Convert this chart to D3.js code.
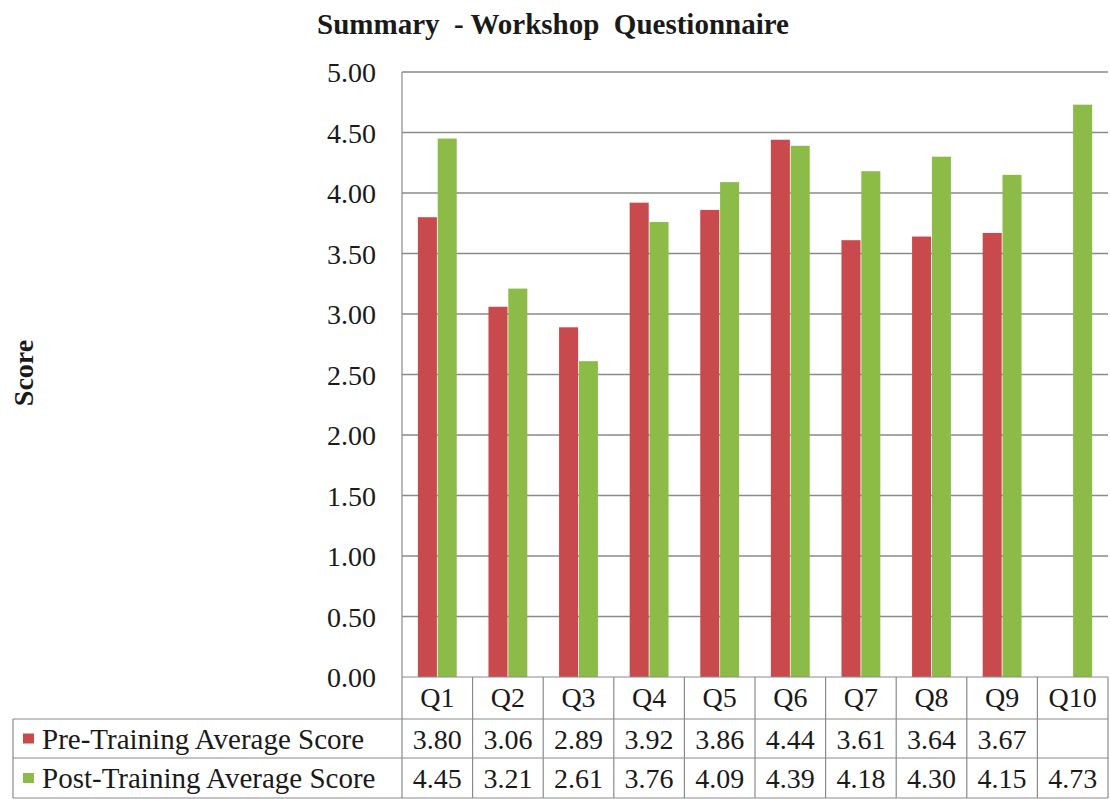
<!DOCTYPE html>
<html>
<head>
<meta charset="utf-8">
<script src="https://cdn.jsdelivr.net/npm/d3@7"></script>
<style>
  body { margin: 0; background: #fff; }
  text { font-family: "Liberation Serif", "Times New Roman", serif; fill: #1a1a1a; }
</style>
</head>
<body>
<div id="chart"></div>
<script>
var questions = ['Q1', 'Q2', 'Q3', 'Q4', 'Q5', 'Q6', 'Q7', 'Q8', 'Q9', 'Q10'];
var preScores = [3.80, 3.06, 2.89, 3.92, 3.86, 4.44, 3.61, 3.64, 3.67, null];
var postScores = [4.45, 3.21, 2.61, 3.76, 4.09, 4.39, 4.18, 4.30, 4.15, 4.73];
var seriesNames = ['Pre-Training Average Score', 'Post-Training Average Score'];
var yTicks = [0, 0.5, 1, 1.5, 2, 2.5, 3, 3.5, 4, 4.5, 5];

var chart_width = 1110;
var chart_height = 799;
var plot_left = 402, plot_right = 1108, plot_top = 72, plot_bottom = 677;
var table_left = 13;
var row_bottoms = [719, 758, 798];
var colors = ['#C94A4D', '#8DBB48'];
var line_color = '#8a8a8a';
var font_size = 28;

var svg = d3.select('#chart')
  .append('svg')
  .attr('width', chart_width)
  .attr('height', chart_height);

// Scales
var xScale = d3.scaleBand()
  .domain(questions)
  .range([plot_left, plot_right]);

var xInner = d3.scaleBand()
  .domain([0, 1])
  .range([0, xScale.bandwidth()])
  .paddingOuter(0.8)
  .paddingInner(0.04);

var yScale = d3.scaleLinear()
  .domain([0, 5])
  .range([plot_bottom, plot_top]);

// Title
svg.append('text')
  .attr('x', 553)
  .attr('y', 34)
  .attr('text-anchor', 'middle')
  .attr('font-size', 29)
  .attr('font-weight', 'bold')
  .style('white-space', 'pre')
  .text('Summary  - Workshop  Questionnaire');

// Y axis label
svg.append('text')
  .attr('transform', 'translate(33,373) rotate(-90)')
  .attr('text-anchor', 'middle')
  .attr('font-size', 28)
  .attr('font-weight', 'bold')
  .text('Score');

// Gridlines
svg.selectAll('line.grid')
  .data(yTicks.slice(1))
  .enter()
  .append('line')
  .attr('class', 'grid')
  .attr('x1', plot_left)
  .attr('x2', plot_right)
  .attr('y1', function (d) { return yScale(d); })
  .attr('y2', function (d) { return yScale(d); })
  .attr('stroke', line_color)
  .attr('stroke-width', 1.5);

// Y tick labels
svg.selectAll('text.ytick')
  .data(yTicks)
  .enter()
  .append('text')
  .attr('class', 'ytick')
  .attr('x', 376)
  .attr('y', function (d) { return yScale(d) + 10; })
  .attr('text-anchor', 'end')
  .attr('font-size', font_size)
  .text(function (d) { return d3.format('.2f')(d); });

// Bars
[preScores, postScores].forEach(function (series, s) {
  svg.selectAll('rect.s' + s)
    .data(series.map(function (v, i) { return { q: questions[i], v: v }; })
      .filter(function (d) { return d.v !== null; }))
    .enter()
    .append('rect')
    .attr('class', 's' + s)
    .attr('x', function (d) { return xScale(d.q) + xInner(s); })
    .attr('y', function (d) { return yScale(d.v); })
    .attr('width', xInner.bandwidth())
    .attr('height', function (d) { return plot_bottom - yScale(d.v); })
    .attr('fill', colors[s]);
});

// Table lines
var tbl = svg.append('g').attr('stroke', line_color).attr('stroke-width', 1.2);
tbl.append('line')
  .attr('x1', plot_left).attr('x2', plot_left)
  .attr('y1', plot_top).attr('y2', row_bottoms[2]);
tbl.selectAll('line.col')
  .data(questions)
  .enter()
  .append('line')
  .attr('x1', function (d) { return xScale(d) + xScale.bandwidth(); })
  .attr('x2', function (d) { return xScale(d) + xScale.bandwidth(); })
  .attr('y1', plot_bottom)
  .attr('y2', row_bottoms[2]);
tbl.append('line')
  .attr('x1', plot_left).attr('x2', plot_right)
  .attr('y1', plot_bottom).attr('y2', plot_bottom);
tbl.selectAll('line.row')
  .data(row_bottoms)
  .enter()
  .append('line')
  .attr('x1', table_left).attr('x2', plot_right)
  .attr('y1', function (d) { return d; })
  .attr('y2', function (d) { return d; });
tbl.append('line')
  .attr('x1', table_left).attr('x2', table_left)
  .attr('y1', row_bottoms[0]).attr('y2', row_bottoms[2]);

// Header row
svg.selectAll('text.qlabel')
  .data(questions)
  .enter()
  .append('text')
  .attr('class', 'qlabel')
  .attr('x', function (d) { return xScale(d) + xScale.bandwidth() / 2; })
  .attr('y', 707)
  .attr('text-anchor', 'middle')
  .attr('font-size', font_size)
  .text(function (d) { return d; });

// Value rows
[preScores, postScores].forEach(function (series, s) {
  var rowMid = (row_bottoms[s] + row_bottoms[s + 1]) / 2;
  svg.append('rect')
    .attr('x', 23)
    .attr('y', rowMid - 5)
    .attr('width', 11)
    .attr('height', 10)
    .attr('fill', colors[s]);
  svg.append('text')
    .attr('x', 42)
    .attr('y', rowMid + 10)
    .attr('font-size', 29)
    .text(seriesNames[s]);
  svg.selectAll('text.val' + s)
    .data(series)
    .enter()
    .append('text')
    .attr('class', 'val' + s)
    .attr('x', function (d, i) { return xScale(questions[i]) + xScale.bandwidth() / 2; })
    .attr('y', rowMid + 10)
    .attr('text-anchor', 'middle')
    .attr('font-size', font_size)
    .text(function (d) { return d === null ? '' : d3.format('.2f')(d); });
});
</script>
</body>
</html>
